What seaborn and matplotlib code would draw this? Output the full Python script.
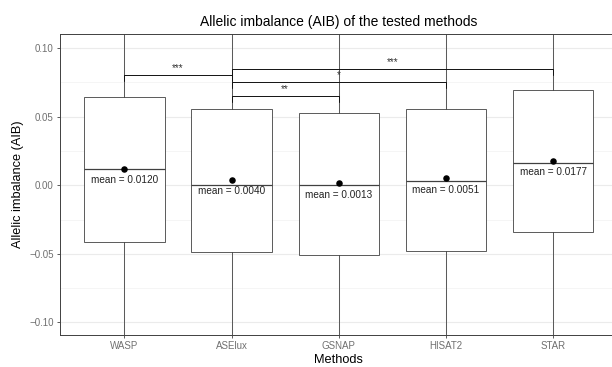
"""
Allelic imbalance (AIB) boxplot of the tested alignment methods,
with mean markers and significance brackets.
"""

import matplotlib
matplotlib.use("Agg")
import matplotlib.pyplot as plt
import seaborn as sns
import numpy as np
from matplotlib.ticker import MultipleLocator

# Box summary per method
methods = ["WASP", "ASElux", "GSNAP", "HISAT2", "STAR"]
q1 = [-0.0414, -0.0487, -0.0509, -0.0480, -0.0339]
medians = [0.0117, 0.0002, 0.0000, 0.0031, 0.0165]
q3 = [0.0647, 0.0557, 0.0526, 0.0557, 0.0693]
whisker_low = [-0.200, -0.205, -0.206, -0.204, -0.189]
whisker_high = [0.222, 0.209, 0.207, 0.209, 0.225]
means = [0.0120, 0.0040, 0.0013, 0.0051, 0.0177]

# Significance brackets: (first method, second method, bracket height, label)
bracket_pairs = [("WASP", "ASElux"), ("ASElux", "GSNAP"), ("ASElux", "HISAT2"), ("ASElux", "STAR")]
bracket_y = [0.0805, 0.0651, 0.0752, 0.0851]
bracket_labels = ["***", "**", "*", "***"]

sns.set_theme(style="whitegrid")
plt.rcParams["font.family"] = ["Liberation Sans", "DejaVu Sans"]

fig = plt.figure(figsize=(6.12, 3.67), dpi=100)
ax = fig.add_axes([60 / 612, 32 / 367, 557.6 / 612, 301 / 367])

positions = np.arange(len(methods))
stats = [
    {"med": m, "q1": a, "q3": b, "whislo": lo, "whishi": hi, "fliers": [], "label": name}
    for name, a, m, b, lo, hi in zip(methods, q1, medians, q3, whisker_low, whisker_high)
]
line_col = "#404040"
ax.bxp(
    stats,
    positions=positions,
    widths=0.75,
    showcaps=False,
    showfliers=False,
    patch_artist=True,
    boxprops={"facecolor": "white", "edgecolor": line_col, "linewidth": 0.6},
    medianprops={"color": line_col, "linewidth": 0.9},
    whiskerprops={"color": line_col, "linewidth": 0.6},
    zorder=2,
)

# mean markers and labels
sns.scatterplot(x=positions, y=means, ax=ax, color="black", s=22, linewidth=0, zorder=3)
for x, m in zip(positions, means):
    ax.text(x, m - 0.0083, f"mean = {m:.4f}", ha="center", va="center",
            fontsize=7.2, color="#222222", zorder=4)

# significance brackets
tip = 0.0045
for (a, b), y, lab in zip(bracket_pairs, bracket_y, bracket_labels):
    x1, x2 = methods.index(a), methods.index(b)
    ax.plot([x1, x1, x2, x2], [y - tip, y, y, y - tip], color="#111111", lw=0.7, zorder=4)
    ax.text((x1 + x2) / 2, y + 0.0028, lab, ha="center", va="baseline",
            fontsize=7, color="#333333", zorder=4)

ax.set_xlim(-0.6, len(methods) - 0.4)
ax.set_ylim(-0.1093, 0.1104)
ax.set_xticks(positions)
ax.set_xticklabels(methods)
ax.yaxis.set_major_locator(MultipleLocator(0.05))
ax.yaxis.set_minor_locator(MultipleLocator(0.025))
ax.set_yticklabels([f"{v:.2f}".replace("-", "\u2212") for v in ax.get_yticks()])
ax.set_ylim(-0.1093, 0.1104)

ax.grid(which="major", axis="y", color="#EBEBEB", linewidth=0.8)
ax.grid(which="minor", axis="y", color="#F2F2F2", linewidth=0.5)
ax.grid(which="major", axis="x", color="#EBEBEB", linewidth=0.8)
ax.set_axisbelow(True)
ax.set_facecolor("white")

for side in ["top", "left", "bottom", "right"]:
    ax.spines[side].set_color(line_col)
    ax.spines[side].set_linewidth(0.7)

ax.tick_params(axis="both", which="major", length=2.5, width=0.6, color=line_col,
               labelsize=7, labelcolor="#707070", pad=2, direction="out",
               bottom=True, left=True)
ax.tick_params(axis="both", which="minor", length=0)

ax.set_xlabel("Methods", fontsize=9.2, color="black", labelpad=2)
ax.set_ylabel("Allelic imbalance (AIB)", fontsize=9.2, color="black", labelpad=4)
ax.set_title("Allelic imbalance (AIB) of the tested methods", fontsize=10, color="black", pad=6)

fig.savefig("out.png", dpi=100)
plt.close(fig)
